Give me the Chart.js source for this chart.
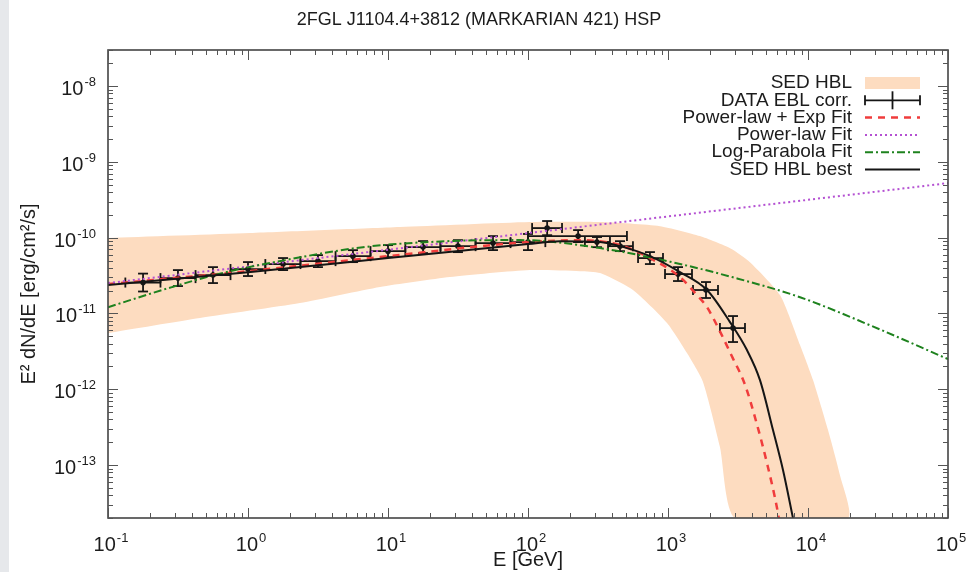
<!DOCTYPE html>
<html>
<head>
<meta charset="utf-8">
<script src="https://cdn.jsdelivr.net/npm/chart.js@4.4.1/dist/chart.umd.min.js"></script>
<style>
  html, body { margin: 0; padding: 0; background: #fff; }
  body { width: 966px; height: 572px; overflow: hidden; position: relative; }
  #strip { position: absolute; left: 0; top: 0; width: 9px; height: 572px; background: #e6e8eb; }
  #wrap { position: absolute; left: 0; top: 0; width: 966px; height: 572px; }
</style>
</head>
<body>
<div id="wrap"><canvas id="c" width="966" height="572"></canvas></div>
<div id="strip"></div>
<script>
// axis ranges + labels
var xMin = 0.1, xMax = 1e5;
var yMin = 2e-14, yMax = 3e-8;
var xDecades = [0.1, 1, 10, 100, 1000, 10000, 100000];
var xExps = ['-1', '0', '1', '2', '3', '4', '5'];
var yDecades = [1e-13, 1e-12, 1e-11, 1e-10, 1e-9, 1e-8];
var yExps = ['-13', '-12', '-11', '-10', '-9', '-8'];
var title = '2FGL J1104.4+3812 (MARKARIAN 421) HSP';
var xTitle = 'E [GeV]';
var yTitle = 'E\u00b2 dN/dE [erg/cm\u00b2/s]';
var legendLabels = ['SED HBL', 'DATA EBL corr.', 'Power-law + Exp Fit', 'Power-law Fit', 'Log-Parabola Fit', 'SED HBL best'];

// SED HBL band (upper edge, lower edge)
var bandUpperE = [0.1, 1.03, 12.2, 103, 327, 877, 1690, 2800, 3850, 6310, 8770, 10860, 13900, 16900, 19300];
var bandUpperF = [9.9e-11, 1.15e-10, 1.38e-10, 1.61e-10, 1.61e-10, 1.42e-10, 1.05e-10, 7.2e-11, 4.76e-11, 1.75e-11, 3.83e-12, 1.32e-12, 2.9e-13, 7.4e-14, 2.0e-14];
var bandLowerE = [0.1, 0.454, 2.35, 8.77, 27.7, 103, 235, 327, 562, 984, 1367, 1778, 2350, 3010];
var bandLowerF = [5.5e-12, 8.7e-12, 1.37e-11, 2.23e-11, 3.02e-11, 3.74e-11, 3.62e-11, 3.41e-11, 2.04e-11, 7.5e-12, 3.0e-12, 1.25e-12, 1.73e-13, 2.0e-14];

// data points, EBL corrected
var dataE   = [0.178, 0.316, 0.562, 1.0, 1.78, 3.16, 5.62, 10, 17.8, 31.6, 56.2, 100, 137, 228, 311, 454, 743, 1179, 1868, 2913];
var dataElo = [0.133, 0.237, 0.422, 0.75, 1.33, 2.37, 4.22, 7.5, 13.3, 23.7, 42.2, 75, 107, 100, 255, 373, 611, 952, 1509, 2350];
var dataEhi = [0.237, 0.422, 0.75, 1.33, 2.37, 4.22, 7.5, 13.3, 23.7, 42.2, 75, 133, 175, 509, 385, 562, 921, 1484, 2276, 3548];
var dataF   = [2.56e-11, 2.93e-11, 3.21e-11, 3.86e-11, 4.49e-11, 4.91e-11, 5.71e-11, 6.65e-11, 7.52e-11, 7.74e-11, 8.49e-11, 8.75e-11, 1.34e-10, 1.05e-10, 8.75e-11, 7.74e-11, 5.38e-11, 3.31e-11, 2.04e-11, 6.41e-12];
var dataFlo = [1.95e-11, 2.30e-11, 2.52e-11, 3.12e-11, 3.74e-11, 4.09e-11, 4.76e-11, 5.54e-11, 6.27e-11, 6.45e-11, 6.86e-11, 6.86e-11, 1.08e-10, 8.75e-11, 7.5e-11, 6.65e-11, 4.49e-11, 2.68e-11, 1.6e-11, 4.2e-12];
var dataFhi = [3.36e-11, 3.74e-11, 4.09e-11, 4.77e-11, 5.39e-11, 5.89e-11, 6.85e-11, 7.98e-11, 9.02e-11, 9.29e-11, 1.05e-10, 1.12e-10, 1.66e-10, 1.26e-10, 1.02e-10, 9.0e-11, 6.46e-11, 4.09e-11, 2.6e-11, 9.25e-12];

// fits
var plecE = [0.1, 1, 10, 100, 235, 454, 743, 1218, 1611, 1900, 2350, 2866, 3548, 4325, 5093, 6008, 6209];
var plecF = [2.44e-11, 3.62e-11, 5.71e-11, 8.75e-11, 9.29e-11, 7.98e-11, 5.38e-11, 3.02e-11, 1.75e-11, 1.21e-11, 5.8e-12, 2.7e-12, 1.15e-12, 3.4e-13, 1.06e-13, 2.71e-14, 1.9e-14];
var plE = [0.1, 100, 1e5];
var plF = [2.52e-11, 1.15e-10, 5.25e-10];
var lpE = [0.1, 0.286, 0.652, 1.84, 6.63, 26.4, 87.7, 327, 1218, 2913, 8770, 27700, 1e5];
var lpF = [1.21e-11, 2.23e-11, 3.41e-11, 5.06e-11, 7.5e-11, 9.0e-11, 9.3e-11, 7.3e-11, 4.5e-11, 3.0e-11, 1.64e-11, 7.0e-12, 2.5e-12];
var bestE = [0.1, 1, 10, 100, 169, 327, 454, 743, 1218, 1900, 2772, 3664, 4540, 5623, 6628, 7812];
var bestF = [2.37e-11, 3.51e-11, 5.38e-11, 8.24e-11, 9.0e-11, 8.75e-11, 7.74e-11, 5.71e-11, 3.51e-11, 2.04e-11, 7.7e-12, 3.29e-12, 1.32e-12, 2.9e-13, 8.6e-14, 2.0e-14];

var bandColor = '#fddcc0';
var redColor = '#f03c3c';
var purpleColor = '#b450d2';
var greenColor = '#1e821e';
var blackColor = '#151515';
var textColor = '#1c1c1c';
var FONT = "'Liberation Sans', Arial, sans-serif";

function pts(xs, ys) {
  return xs.map(function (x, i) { return { x: x, y: ys[i] }; });
}

var bandPts = pts(bandUpperE, bandUpperF).concat(pts(bandLowerE, bandLowerF).reverse());

function line(ctx, x1, y1, x2, y2) {
  ctx.beginPath(); ctx.moveTo(x1, y1); ctx.lineTo(x2, y2); ctx.stroke();
}

function drawErrorBars(chart) {
  var ctx = chart.ctx, sx = chart.scales.x, sy = chart.scales.y, a = chart.chartArea;
  ctx.save();
  ctx.beginPath(); ctx.rect(a.left, a.top, a.right - a.left, a.bottom - a.top); ctx.clip();
  ctx.strokeStyle = blackColor; ctx.lineWidth = 1.8;
  var cap = 5;
  for (var i = 0; i < dataE.length; i++) {
    var x = sx.getPixelForValue(dataE[i]), y = sy.getPixelForValue(dataF[i]);
    var x1 = sx.getPixelForValue(dataElo[i]), x2 = sx.getPixelForValue(dataEhi[i]);
    var y1 = sy.getPixelForValue(dataFlo[i]), y2 = sy.getPixelForValue(dataFhi[i]);
    line(ctx, x1, y, x2, y);
    line(ctx, x1, y - cap, x1, y + cap);
    line(ctx, x2, y - cap, x2, y + cap);
    line(ctx, x, y1, x, y2);
    line(ctx, x - cap, y1, x + cap, y1);
    line(ctx, x - cap, y2, x + cap, y2);
  }
  ctx.restore();
}

function drawSupLabel(ctx, base, exp, x, y, align) {
  ctx.font = '20px ' + FONT;
  var wb = ctx.measureText(base).width;
  ctx.font = '13px ' + FONT;
  var we = ctx.measureText(exp).width;
  var start = align === 'right' ? x - wb - we - 1 : x - (wb + we + 1) / 2;
  ctx.textAlign = 'left';
  ctx.textBaseline = 'alphabetic';
  ctx.font = '20px ' + FONT;
  ctx.fillText(base, start, y);
  ctx.font = '13px ' + FONT;
  ctx.fillText(exp, start + wb + 1, y - 9);
}

var gnuplotLook = {
  id: 'gnuplotLook',
  afterDatasetDraw: function (chart, args) {
    if (chart.data.datasets[args.index].label === 'SED HBL') drawErrorBars(chart);
  },
  afterDraw: function (chart) {
    var ctx = chart.ctx, a = chart.chartArea, sx = chart.scales.x, sy = chart.scales.y;
    ctx.save();
    // frame
    ctx.strokeStyle = '#444'; ctx.lineWidth = 1.6;
    ctx.strokeRect(a.left, a.top, a.right - a.left, a.bottom - a.top);
    // ticks on all four sides
    ctx.lineWidth = 1; ctx.strokeStyle = '#555';
    var d, m, v, p, len;
    for (d = -1; d <= 5; d++) {
      for (m = 1; m <= 9; m++) {
        v = m * Math.pow(10, d);
        if (v < xMin * 0.999 || v > xMax * 1.001) continue;
        p = Math.round(sx.getPixelForValue(v)) + 0.5;
        len = m === 1 ? 10 : 5;
        line(ctx, p, a.bottom, p, a.bottom - len);
        line(ctx, p, a.top, p, a.top + len);
      }
    }
    for (d = -14; d <= -8; d++) {
      for (m = 1; m <= 9; m++) {
        v = m * Math.pow(10, d);
        if (v < yMin * 0.999 || v > yMax * 1.001) continue;
        p = Math.round(sy.getPixelForValue(v)) + 0.5;
        len = m === 1 ? 10 : 5;
        line(ctx, a.left, p, a.left + len, p);
        line(ctx, a.right, p, a.right - len, p);
      }
    }
    // tick labels
    ctx.fillStyle = textColor;
    xDecades.forEach(function (val, i) {
      drawSupLabel(ctx, '10', xExps[i], sx.getPixelForValue(val) + 3, 551, 'center');
    });
    yDecades.forEach(function (val, i) {
      drawSupLabel(ctx, '10', yExps[i], 96, sy.getPixelForValue(val) + 9, 'right');
    });
    // titles
    ctx.font = '18px ' + FONT;
    ctx.textAlign = 'center'; ctx.textBaseline = 'alphabetic';
    ctx.fillText(title, 479, 25);
    ctx.font = '20px ' + FONT;
    ctx.fillText(xTitle, 528, 566);
    ctx.save();
    ctx.translate(29, 294);
    ctx.rotate(-Math.PI / 2);
    ctx.textBaseline = 'middle';
    ctx.fillText(yTitle, 0, 0);
    ctx.restore();
    // legend
    var lx = 852, s1 = 865, s2 = 920, y0 = 83, dy = 17.3;
    ctx.font = '19px ' + FONT;
    ctx.textAlign = 'right'; ctx.textBaseline = 'middle';
    legendLabels.forEach(function (t, i) { ctx.fillText(t, lx, y0 + i * dy); });
    var y;
    y = y0; ctx.fillStyle = bandColor; ctx.fillRect(s1, y - 6, s2 - s1, 12);
    y = y0 + dy; ctx.strokeStyle = blackColor; ctx.lineWidth = 1.8; ctx.setLineDash([]);
    line(ctx, s1, y, s2, y); line(ctx, s1, y - 5, s1, y + 5); line(ctx, s2, y - 5, s2, y + 5);
    line(ctx, (s1 + s2) / 2, y - 9, (s1 + s2) / 2, y + 9);
    y = y0 + 2 * dy; ctx.strokeStyle = redColor; ctx.lineWidth = 2.5; ctx.setLineDash([7, 6]);
    line(ctx, s1, y, s2, y);
    y = y0 + 3 * dy; ctx.strokeStyle = purpleColor; ctx.lineWidth = 2; ctx.setLineDash([2, 3]);
    line(ctx, s1, y, s2, y);
    y = y0 + 4 * dy; ctx.strokeStyle = greenColor; ctx.lineWidth = 2; ctx.setLineDash([8, 3, 2, 3]);
    line(ctx, s1, y, s2, y);
    y = y0 + 5 * dy; ctx.strokeStyle = blackColor; ctx.lineWidth = 2; ctx.setLineDash([]);
    line(ctx, s1, y, s2, y);
    ctx.restore();
  }
};

var chart = new Chart(document.getElementById('c'), {
  type: 'line',
  data: {
    datasets: [
      { label: 'SED HBL best', data: pts(bestE, bestF), borderColor: blackColor, borderWidth: 2,
        pointRadius: 0, fill: false, cubicInterpolationMode: 'monotone', order: 1 },
      { label: 'Log-Parabola Fit', data: pts(lpE, lpF), borderColor: greenColor, borderWidth: 2,
        borderDash: [8, 3, 2, 3], pointRadius: 0, fill: false, cubicInterpolationMode: 'monotone', order: 2 },
      { label: 'Power-law Fit', data: pts(plE, plF), borderColor: purpleColor, borderWidth: 2,
        borderDash: [2, 3], pointRadius: 0, fill: false, order: 3 },
      { label: 'Power-law + Exp Fit', data: pts(plecE, plecF), borderColor: redColor, borderWidth: 2.5,
        borderDash: [7, 6], pointRadius: 0, fill: false, cubicInterpolationMode: 'monotone', order: 4 },
      { label: 'DATA EBL corr.', data: pts(dataE, dataF), showLine: false, pointRadius: 2.8,
        pointBackgroundColor: blackColor, pointBorderWidth: 0, order: 5 },
      { label: 'SED HBL', data: bandPts, borderWidth: 0, borderColor: bandColor, backgroundColor: bandColor,
        fill: 'shape', pointRadius: 0, tension: 0.2, order: 6 }
    ]
  },
  options: {
    responsive: false,
    animation: false,
    layout: { padding: { left: 108, right: 18, top: 50, bottom: 54 } },
    scales: {
      x: { type: 'logarithmic', min: xMin, max: xMax, display: false },
      y: { type: 'logarithmic', min: yMin, max: yMax, display: false }
    },
    plugins: { legend: { display: false }, tooltip: { enabled: false } }
  },
  plugins: [gnuplotLook]
});
</script>
</body>
</html>
